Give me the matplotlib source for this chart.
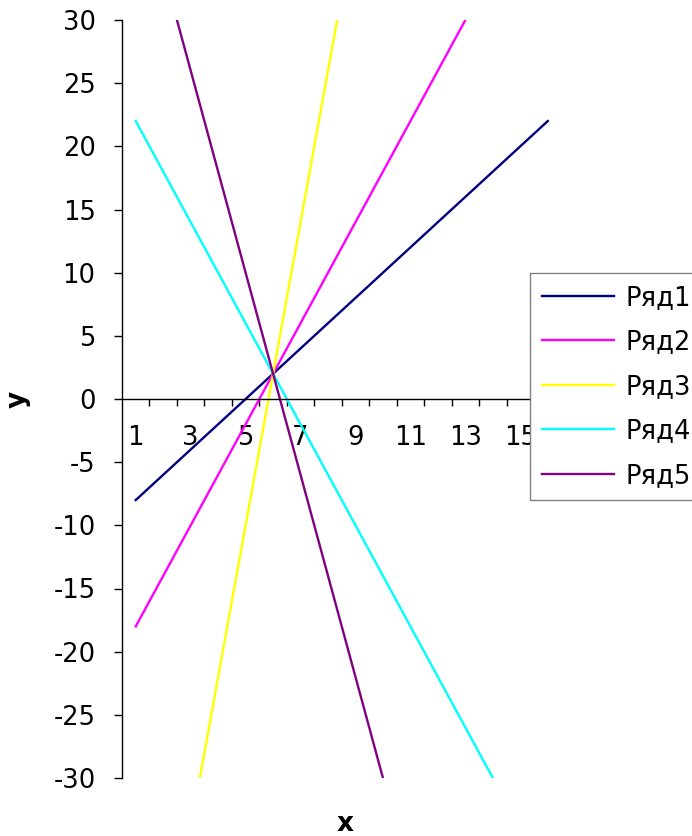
import matplotlib
matplotlib.use('Agg')
import matplotlib.pyplot as plt
from matplotlib.ticker import FixedLocator, NullFormatter

plt.rcParams['axes.unicode_minus'] = False

# categories on the x axis
x = list(range(1, 17))

# series values
row1 = [-8, -6, -4, -2, 0, 2, 4, 6, 8, 10, 12, 14, 16, 18, 20, 22]
row2 = [-18, -14, -10, -6, -2, 2, 6, 10, 14, 18, 22, 26, 30, 34, 38, 42]
row3 = [-58, -46, -34, -22, -10, 2, 14, 26, 38, 50, 62, 74, 86, 98, 110, 122]
row4 = [22, 18, 14, 10, 6, 2, -2, -6, -10, -14, -18, -22, -26, -30, -34, -38]
row5 = [42, 34, 26, 18, 10, 2, -6, -14, -22, -30, -38, -46, -54, -62, -70, -78]

names = ['Ряд1', 'Ряд2', 'Ряд3', 'Ряд4', 'Ряд5']
colors = ['#000080', '#ff00ff', '#ffff00', '#00ffff', '#800080']

xlabels = ['1', '3', '5', '7', '9', '11', '13', '15']
yticks = [-30, -25, -20, -15, -10, -5, 0, 5, 10, 15, 20, 25, 30]

W, H = 692, 836
fig = plt.figure(figsize=(W / 100, H / 100), dpi=100)
ax = fig.add_axes([122 / W, 1 - 778 / H, (561.5 - 122) / W, (778 - 20) / H])

for vals, name, c in zip([row1, row2, row3, row4, row5], names, colors):
    ax.plot(x, vals, color=c, lw=1.7, label=name)

ax.set_xlim(0.5, 16.5)
ax.set_ylim(-30, 30)

# spines like an excel chart: y axis on left, x axis through zero
ax.spines['top'].set_visible(False)
ax.spines['right'].set_visible(False)
ax.spines['bottom'].set_position(('data', 0))
ax.spines['left'].set_linewidth(1.0)
ax.spines['bottom'].set_linewidth(1.0)

# x ticks between categories, labels every second category
ax.xaxis.set_major_locator(FixedLocator([i + 0.5 for i in range(1, 16)]))
ax.xaxis.set_major_formatter(NullFormatter())
ax.xaxis.set_minor_locator(FixedLocator([int(s) for s in xlabels]))
ax.set_xticklabels(xlabels, minor=True)
ax.tick_params(axis='x', which='major', direction='out', length=5, width=1)
ax.tick_params(axis='x', which='minor', length=0, pad=19, labelsize=18.5)

ax.set_yticks(yticks)
ax.tick_params(axis='y', direction='out', length=6, width=1, labelsize=18.5, pad=13)

fig.text(18 / W, 1 - 399 / H, 'y', rotation=90, ha='center', va='center',
         fontsize=19, fontweight='bold')
fig.text(345 / W, 1 - 824 / H, 'x', ha='center', va='center',
         fontsize=19, fontweight='bold')

leg = ax.legend(loc='upper left', bbox_to_anchor=(530 / W, 1 - 273 / H),
                bbox_transform=fig.transFigure, fontsize=18.5, frameon=True,
                fancybox=False, framealpha=1, handlelength=2.8, handletextpad=0.45,
                labelspacing=0.72, borderpad=0.45, borderaxespad=0)
leg.get_frame().set_edgecolor('#808080')
leg.get_frame().set_linewidth(1.0)
leg.set_zorder(10)

fig.savefig('out.png', dpi=100)
